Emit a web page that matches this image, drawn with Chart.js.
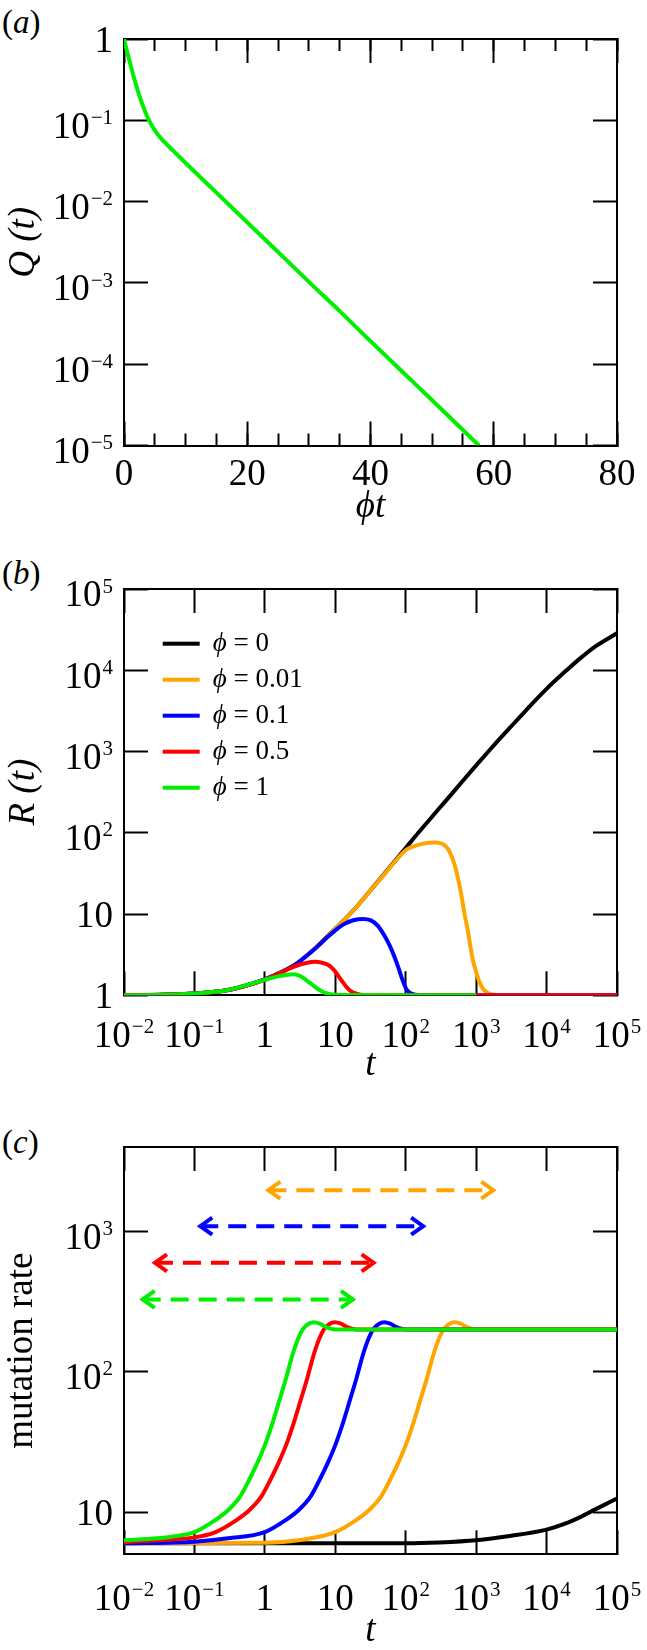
<!DOCTYPE html>
<html>
<head>
<meta charset="utf-8">
<script src="https://cdn.jsdelivr.net/npm/chart.js@4.4.1/dist/chart.umd.min.js"></script>
<style>
  html, body { margin: 0; padding: 0; background: #fff; }
  body { width: 647px; height: 1650px; position: relative; overflow: hidden; font-family: 'Liberation Serif', serif; }
  canvas { position: absolute; left: 0; }
  .tag { position: absolute; left: 2px; font-size: 33px; line-height: 1; color: #000; }
</style>
</head>
<body>
<div class="tag" style="top:6px">(<i>a</i>)</div>
<div class="tag" style="top:557px">(<i>b</i>)</div>
<div class="tag" style="top:1126px">(<i>c</i>)</div>
<canvas id="chart-q" width="647" height="540" style="top:0"></canvas>
<canvas id="chart-r" width="647" height="560" style="top:540px"></canvas>
<canvas id="chart-m" width="647" height="555" style="top:1095px"></canvas>
<script>
// (a) Q(t) against phi*t
const phiT    = [0, 0.5, 1, 1.5, 2, 2.5, 3, 3.5, 4, 5, 6, 7, 8, 10, 12, 15, 20, 25, 30, 35, 40, 45, 50, 55, 57.6];
const qValues = [1, 0.70, 0.50, 0.36, 0.265, 0.2, 0.156, 0.124, 0.102, 0.075, 0.06, 0.05, 0.042, 0.0298, 0.0213,
                 0.0129, 0.00555, 0.0024, 1.03e-3, 4.5e-4, 1.92e-4, 8.3e-5, 3.6e-5, 1.55e-5, 1e-5];
const phiTTicks      = [0, 20, 40, 60, 80];
const phiTTickLabels = ['0', '20', '40', '60', '80'];
const phiTMinorTicks = [0, 5, 10, 15, 20, 25, 30, 35, 40, 45, 50, 55, 60, 65, 70, 75, 80];
const qTicks      = [1e-5, 1e-4, 1e-3, 1e-2, 1e-1, 1];
const qTickLabels = ['10^−5', '10^−4', '10^−3', '10^−2', '10^−1', '1'];

// (b) R(t)
const tBlack = [0.01, 0.03, 0.1, 0.3, 0.57, 1, 1.4, 2.2, 3, 5, 7, 10, 13.6, 20, 30, 50, 100, 151, 300, 500, 1000, 1460, 2000, 3000, 5000, 1e4, 2e4, 3e4, 5e4, 1e5];
const rBlack = [1, 1.01, 1.05, 1.16, 1.34, 1.57, 1.78, 2.15, 2.55, 3.7, 4.9, 6.6, 8.6, 12.2, 18.5, 31.5, 65, 100, 200, 335, 675, 980, 1330, 1950, 3150, 5900, 10300, 14000, 19800, 28500];
const tOrange = [0.01, 0.1, 0.3, 1, 3, 10, 13.6, 20, 30, 50, 100, 150, 200, 250, 300, 350, 400, 450, 500, 550, 600, 650, 700, 750, 800, 900, 1000, 1100, 1250, 1500, 2000, 3000, 1e4, 1e5];
const rOrange = [1, 1.05, 1.16, 1.57, 2.55, 6.6, 8.6, 12.2, 18.5, 31, 61, 71, 75, 76, 75, 71, 63, 51, 39, 28, 19.5, 13, 9, 6.8, 4.8, 2.7, 1.95, 1.5, 1.2, 1.06, 1.01, 1, 1, 1];
const tBlue = [0.01, 0.1, 0.3, 1, 2.2, 3, 5, 7, 10, 13.6, 18, 25, 32, 40, 50, 60, 70, 80, 90, 103, 120, 150, 300, 1000, 1e5];
const rBlue = [1, 1.05, 1.16, 1.57, 2.15, 2.55, 3.65, 4.8, 6.3, 7.6, 8.4, 8.7, 8.35, 7.2, 5.4, 4, 2.9, 2.1, 1.55, 1.18, 1.05, 1.01, 1, 1, 1];
const tRed = [0.01, 0.1, 0.3, 1, 1.4, 2.2, 3, 4, 5.1, 6.5, 7.5, 8.5, 9.7, 11.1, 12.8, 14.6, 16.5, 19, 23, 30, 100, 1e5];
const rRed = [1, 1.05, 1.16, 1.55, 1.76, 2.12, 2.36, 2.52, 2.58, 2.52, 2.42, 2.27, 2.02, 1.72, 1.45, 1.25, 1.13, 1.06, 1.02, 1, 1, 1];
const tGreen = [0.01, 0.03, 0.1, 0.3, 0.57, 1, 1.6, 2.5, 3, 3.5, 4, 4.6, 5.2, 5.9, 7, 8.5, 11, 100, 1000];
const rGreen = [1, 1.01, 1.05, 1.16, 1.34, 1.55, 1.72, 1.81, 1.76, 1.64, 1.5, 1.37, 1.26, 1.17, 1.08, 1.03, 1.005, 1, 1];
const phiLabels = ['ϕ = 0', 'ϕ = 0.01', 'ϕ = 0.1', 'ϕ = 0.5', 'ϕ = 1'];
const tTicks      = [1e-2, 1e-1, 1, 10, 1e2, 1e3, 1e4, 1e5];
const tTickLabels = ['10^−2', '10^−1', '1', '10', '10^2', '10^3', '10^4', '10^5'];
const rTicks      = [1, 10, 1e2, 1e3, 1e4, 1e5];
const rTickLabels = ['1', '10', '10^2', '10^3', '10^4', '10^5'];

// (c) mutation rate
const tMutBlack = [0.01, 1, 100, 300, 1000, 3000, 1e4, 2e4, 3e4, 5e4, 1e5];
const mBlack    = [6, 6, 6, 6.08, 6.3, 6.75, 7.5, 8.4, 9.2, 10.5, 12.5];
const tMutOrange = [0.01, 1, 3, 10, 20, 30, 45, 60, 80, 100, 130, 160, 200, 250, 300, 350, 420, 495, 600, 740, 900, 1100, 1e5];
const mOrange    = [6, 6.05, 6.3, 7.2, 8.8, 10.3, 13, 17, 23, 30, 44, 62, 90, 135, 175, 203, 220, 225, 220, 208, 202, 200, 200];
const tMutBlue = [0.01, 0.1, 0.3, 1, 2, 3, 4.5, 6, 8, 10, 13, 16, 20, 25, 30, 35, 42, 49.5, 60, 74, 90, 110, 1e5];
const mBlue    = [6, 6.15, 6.5, 7.2, 8.8, 10.3, 13, 17, 23, 30, 44, 62, 90, 135, 175, 203, 220, 225, 220, 208, 202, 200, 200];
const tMutRed = [0.01, 0.03, 0.1, 0.2, 0.4, 0.6, 0.9, 1.2, 1.6, 2, 2.6, 3.2, 4, 5, 6, 7, 8.4, 9.9, 12, 14.8, 18, 22, 1e5];
const mRed    = [6.1, 6.3, 6.6, 7.2, 8.8, 10.3, 13, 17, 23, 30, 44, 62, 90, 135, 175, 203, 220, 225, 220, 208, 202, 200, 200];
const tMutGreen = [0.01, 0.03, 0.05, 0.1, 0.2, 0.3, 0.45, 0.6, 0.8, 1, 1.3, 1.6, 2, 2.5, 3, 3.5, 4.2, 4.95, 6, 7.4, 9, 11, 1e5];
const mGreen    = [6.3, 6.5, 6.7, 7.2, 8.8, 10.3, 13, 17, 23, 30, 44, 62, 90, 135, 175, 203, 220, 225, 220, 208, 202, 200, 200];
// dashed double arrows: orange, blue, red, green
const arrowLevel = [1970, 1090, 598, 328];
const arrowFrom  = [1.12, 0.121, 0.0275, 0.0184];
const arrowTo    = [1750, 177, 35, 17.8];
const mTicks      = [10, 100, 1000];
const mTickLabels = ['10', '10^2', '10^3'];

const seriesColors = ['#000000', '#ffa500', '#0000ff', '#ff0000', '#00ee00'];

document.addEventListener("DOMContentLoaded", function () {
    const SERIF = "'Liberation Serif', 'DejaVu Serif', serif";
    Chart.defaults.font.family = SERIF;
    Chart.defaults.color = '#000';
    Chart.defaults.animation = false;

    const pts = (xs, ys) => xs.map((x, i) => ({ x: x, y: ys[i] }));
    const ticksFrom = (values) => (axis) => { axis.ticks = values.map(v => ({ value: v })); };

    // axis that only draws the frame and inward ticks
    function frameAxis(type, position, min, max, values, len, weight) {
        const horizontal = position === 'top' || position === 'bottom';
        return {
            type: type, position: position, min: min, max: max, axis: horizontal ? 'x' : 'y', weight: weight || 0,
            afterBuildTicks: ticksFrom(values),
            afterFit: horizontal ? (a) => { a.height = 0; } : (a) => { a.width = 0; },
            ticks: { display: false },
            grid: { drawOnChartArea: false, tickLength: -len, tickWidth: 2, tickColor: '#000' },
            border: { display: true, color: '#000', width: 2 }
        };
    }

    // main axis: frame, inward ticks and title (tick labels are drawn by powerLabels)
    function mainAxis(type, position, min, max, values, o) {
        const horizontal = position === 'bottom';
        return {
            type: type, position: position, min: min, max: max, axis: horizontal ? 'x' : 'y', weight: 1,
            afterBuildTicks: ticksFrom(values),
            afterFit: horizontal ? (a) => { a.height = o.size; } : (a) => { a.width = o.size; },
            ticks: { display: false },
            grid: { drawOnChartArea: false, tickLength: -24, tickWidth: 2, tickColor: '#000' },
            border: { color: '#000', width: 2 },
            title: { display: true, text: o.title, color: '#000',
                     font: { family: SERIF, size: 37, style: o.italic ? 'italic' : 'normal' }, padding: o.titlePad }
        };
    }

    // tick labels like 10^-2 drawn with a raised, smaller exponent
    function powerLabels(specs) {
        return {
            id: 'powerLabels',
            afterDraw(chart) {
                const ctx = chart.ctx;
                ctx.save();
                ctx.fillStyle = '#000';
                ctx.textAlign = 'left';
                ctx.textBaseline = 'alphabetic';
                specs.forEach(spec => {
                    const scale = chart.scales[spec.id];
                    spec.values.forEach((v, i) => {
                        const parts = spec.labels[i].split('^');
                        const base = parts[0], exp = parts[1] || '';
                        ctx.font = '37px ' + SERIF;
                        const wb = ctx.measureText(base).width;
                        ctx.font = '21px ' + SERIF;
                        const we = exp ? ctx.measureText(exp).width + 1 : 0;
                        const p = scale.getPixelForValue(v);
                        let x, y;
                        if (scale.isHorizontal()) {
                            x = p - (wb + we) / 2;
                            y = scale.top + spec.gap;
                        } else {
                            x = scale.right - spec.gap - (wb + we);
                            y = p + (exp ? 17.3 : 12.5);
                        }
                        ctx.font = '37px ' + SERIF;
                        ctx.fillText(base, x, y);
                        if (exp) {
                            ctx.font = '21px ' + SERIF;
                            ctx.fillText(exp, x + wb + 1, y - 13.7);
                        }
                    });
                });
                ctx.restore();
            }
        };
    }

    // legend inside the plot: coloured bar, italic phi, upright value
    function phiLegend(dx, dy, rowGap) {
        return {
            id: 'phiLegend',
            afterDraw(chart) {
                const ctx = chart.ctx;
                const area = chart.chartArea;
                ctx.save();
                ctx.textAlign = 'left';
                ctx.textBaseline = 'middle';
                chart.data.datasets.forEach((ds, i) => {
                    const x = area.left + dx;
                    const y = area.top + dy + i * rowGap;
                    ctx.fillStyle = ds.borderColor;
                    ctx.fillRect(x, y - 2, 37, 4);
                    const sym = ds.label.slice(0, 1), rest = ds.label.slice(1);
                    ctx.fillStyle = '#000';
                    ctx.font = 'italic 27px ' + SERIF;
                    ctx.fillText(sym, x + 50, y);
                    const w = ctx.measureText(sym).width;
                    ctx.font = '27px ' + SERIF;
                    ctx.fillText(rest, x + 50 + w, y);
                });
                ctx.restore();
            }
        };
    }

    function line(label, color, data, order) {
        return { label: label, data: data, borderColor: color, backgroundColor: color, borderWidth: 4,
                 pointRadius: 0, cubicInterpolationMode: 'monotone', order: order };
    }

    // Gráfico (a)
    new Chart(document.getElementById('chart-q').getContext('2d'), {
        type: 'line',
        data: { datasets: [line('Q', seriesColors[4], pts(phiT, qValues), 1)] },
        options: {
            responsive: false,
            layout: { padding: { top: 39, right: 30, left: 0, bottom: 0 } },
            plugins: { legend: { display: false }, tooltip: { enabled: false } },
            scales: {
                x: mainAxis('linear', 'bottom', 0, 80, phiTTicks,
                            { size: 94.5, title: 'ϕt', italic: true, titlePad: { top: 0, bottom: 11 } }),
                xMinor: frameAxis('linear', 'bottom', 0, 80, phiTMinorTicks, 12, 0),
                xTop: frameAxis('linear', 'top', 0, 80, phiTTicks, 24),
                xTopMinor: frameAxis('linear', 'top', 0, 80, phiTMinorTicks, 12),
                y: mainAxis('logarithmic', 'left', 1e-5, 1, qTicks,
                            { size: 124, title: 'Q (t)', italic: true, titlePad: { top: 2, bottom: 0 } }),
                yRight: frameAxis('logarithmic', 'right', 1e-5, 1, qTicks, 24)
            }
        },
        plugins: [powerLabels([
            { id: 'x', values: phiTTicks, labels: phiTTickLabels, gap: 39.5 },
            { id: 'y', values: qTicks, labels: qTickLabels, gap: 11 }
        ])]
    });

    // Gráfico (b)
    const rSets = [[tBlack, rBlack], [tOrange, rOrange], [tBlue, rBlue], [tRed, rRed], [tGreen, rGreen]];
    new Chart(document.getElementById('chart-r').getContext('2d'), {
        type: 'line',
        data: { datasets: rSets.map((s, i) => line(phiLabels[i], seriesColors[i], pts(s[0], s[1]), 5 - i)) },
        options: {
            responsive: false,
            layout: { padding: { top: 49, right: 30, left: 0, bottom: 0 } },
            plugins: { legend: { display: false }, tooltip: { enabled: false } },
            scales: {
                x: mainAxis('logarithmic', 'bottom', 1e-2, 1e5, tTicks,
                            { size: 104.7, title: 't', italic: true, titlePad: { top: 0, bottom: 13 } }),
                xTop: frameAxis('logarithmic', 'top', 1e-2, 1e5, tTicks, 24),
                y: mainAxis('logarithmic', 'left', 1, 1e5, rTicks,
                            { size: 124, title: 'R (t)', italic: true, titlePad: { top: 2, bottom: 0 } }),
                yRight: frameAxis('logarithmic', 'right', 1, 1e5, rTicks, 24)
            }
        },
        plugins: [phiLegend(38.7, 54.7, 36), powerLabels([
            { id: 'x', values: tTicks, labels: tTickLabels, gap: 51.4 },
            { id: 'y', values: rTicks, labels: rTickLabels, gap: 11 }
        ])]
    });

    // open chevron heads at both ends of the arrow datasets
    const arrowHeads = {
        id: 'arrowHeads',
        afterDatasetsDraw(chart) {
            const ctx = chart.ctx;
            chart.data.datasets.forEach((ds, i) => {
                if (!ds.arrow) return;
                const el = chart.getDatasetMeta(i).data;
                const ends = [[el[0], 1], [el[el.length - 1], -1]];
                ctx.save();
                ctx.strokeStyle = ds.borderColor;
                ctx.lineWidth = 4;
                ctx.lineJoin = 'miter';
                ends.forEach(([p, dir]) => {
                    ctx.beginPath();
                    ctx.moveTo(p.x + dir * 12, p.y - 8.5);
                    ctx.lineTo(p.x, p.y);
                    ctx.lineTo(p.x + dir * 12, p.y + 8.5);
                    ctx.stroke();
                });
                ctx.restore();
            });
        }
    };

    // Gráfico (c)
    const mSets = [[tMutBlack, mBlack], [tMutOrange, mOrange], [tMutBlue, mBlue], [tMutRed, mRed], [tMutGreen, mGreen]];
    const arrowColors = [seriesColors[1], seriesColors[2], seriesColors[3], seriesColors[4]];
    const mData = mSets.map((s, i) => line(phiLabels[i], seriesColors[i], pts(s[0], s[1]), 5 - i));
    arrowLevel.forEach((lvl, i) => {
        mData.push({ label: 'range', data: [{ x: arrowFrom[i], y: lvl }, { x: arrowTo[i], y: lvl }],
                     borderColor: arrowColors[i], borderWidth: 4, borderDash: [18, 10], pointRadius: 0,
                     order: 0, arrow: true });
    });
    new Chart(document.getElementById('chart-m').getContext('2d'), {
        type: 'line',
        data: { datasets: mData },
        options: {
            responsive: false,
            layout: { padding: { top: 52, right: 30, left: 0, bottom: 0 } },
            plugins: { legend: { display: false }, tooltip: { enabled: false } },
            scales: {
                x: mainAxis('logarithmic', 'bottom', 1e-2, 1e5, tTicks,
                            { size: 95.7, title: 't', italic: true, titlePad: { top: 0, bottom: -3 } }),
                xTop: frameAxis('logarithmic', 'top', 1e-2, 1e5, tTicks, 24),
                y: mainAxis('logarithmic', 'left', 5, 4000, mTicks,
                            { size: 124, title: 'mutation rate', italic: false, titlePad: { top: 0, bottom: 0 } }),
                yRight: frameAxis('logarithmic', 'right', 5, 4000, mTicks, 24)
            }
        },
        plugins: [arrowHeads, powerLabels([
            { id: 'x', values: tTicks, labels: tTickLabels, gap: 55.7 },
            { id: 'y', values: mTicks, labels: mTickLabels, gap: 11 }
        ])]
    });
});
</script>
</body>
</html>
